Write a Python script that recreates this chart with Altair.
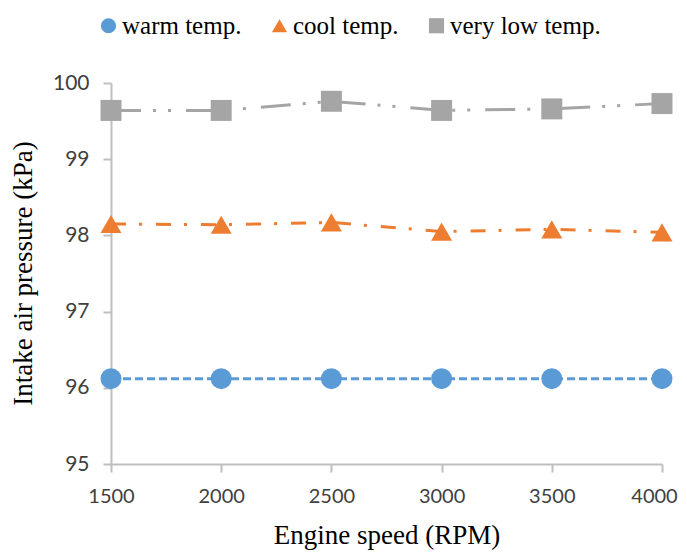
import altair as alt
import pandas as pd

rpm = [1500, 2000, 2500, 3000, 3500, 4000]
warm = [96.12, 96.12, 96.12, 96.12, 96.12, 96.12]
cool = [98.15, 98.14, 98.17, 98.05, 98.08, 98.04]
very_low = [99.64, 99.64, 99.76, 99.64, 99.66, 99.73]
series = ["warm temp.", "cool temp.", "very low temp."]
colors = ["#5B9BD5", "#ED7D31", "#A5A5A5"]
shapes = ["circle", "triangle-up", "square"]
dashes = [[8, 4], [15, 13, 3, 14], [30, 12, 3, 12, 3, 15]]
x_ticks = [1500, 2000, 2500, 3000, 3500, 4000]
y_ticks = [95, 96, 97, 98, 99, 100]

rows = []
for name, vals in zip(series, [warm, cool, very_low]):
    for r, v in zip(rpm, vals):
        rows.append({"rpm": r, "p": v, "series": name})
df = pd.DataFrame(rows)

x = alt.X("rpm:Q", scale=alt.Scale(domain=[1500, 4000], nice=False, zero=False),
          axis=alt.Axis(values=x_ticks, format="d", title="Engine speed (RPM)", grid=False,
                        domainColor="#BFBFBF", domainWidth=2, tickColor="#BFBFBF",
                        tickWidth=2, tickSize=8, labelFont="Lato", labelFontSize=20,
                        labelColor="#404040", labelPadding=14, labelFlush=False,
                        labelOffset={"condition": {"test": "datum.value == 4000", "value": -8},
                                     "value": 0},
                        titleFont="Liberation Serif", titleFontSize=27,
                        titleFontWeight="normal", titleColor="#000000",
                        titleBaseline="alphabetic", titleY=79))
y = alt.Y("p:Q", scale=alt.Scale(domain=[95, 100], nice=False, zero=False),
          axis=alt.Axis(values=y_ticks, format="d", title="Intake air pressure (kPa)", grid=False,
                        domainColor="#BFBFBF", domainWidth=2, tickColor="#BFBFBF",
                        tickWidth=2, tickSize=8, labelFont="Lato", labelFontSize=21,
                        labelColor="#404040", labelPadding=14,
                        titleFont="Liberation Serif", titleFontSize=27,
                        titleFontWeight="normal", titleColor="#000000",
                        titleBaseline="alphabetic", titleAngle=270, titleX=-80,
                        titleY=190, titleAlign="center"))

legend = alt.Legend(title=None, orient="none", direction="horizontal",
                    legendX=-15, legendY=-70, labelFont="Liberation Serif",
                    labelFontSize=25, labelColor="#000000",
                    symbolSize=230, labelOffset=1, columnPadding=25,
                    symbolStrokeWidth=0, padding=0)
color = alt.Color("series:N", scale=alt.Scale(domain=series, range=colors), legend=legend)
shape = alt.Shape("series:N", scale=alt.Scale(domain=series, range=shapes), legend=legend)

lines = alt.Chart(df).mark_line(strokeWidth=3).encode(
    x=x, y=y,
    color=color,
    strokeDash=alt.StrokeDash("series:N", scale=alt.Scale(domain=series, range=dashes), legend=None),
    detail="series:N",
)
points = alt.Chart(df).mark_point(filled=True, opacity=1, size=440).encode(
    x=x, y=y, color=color, shape=shape,
)

chart = alt.layer(lines, points).properties(
    width=551, height=381,
    autosize=alt.AutoSizeParams(type="none"),
    padding={"left": 103, "top": 75, "right": 16, "bottom": 88},
).configure_view(stroke=None)

chart.save("out.html", embed_options={"renderer": "svg", "actions": False})
